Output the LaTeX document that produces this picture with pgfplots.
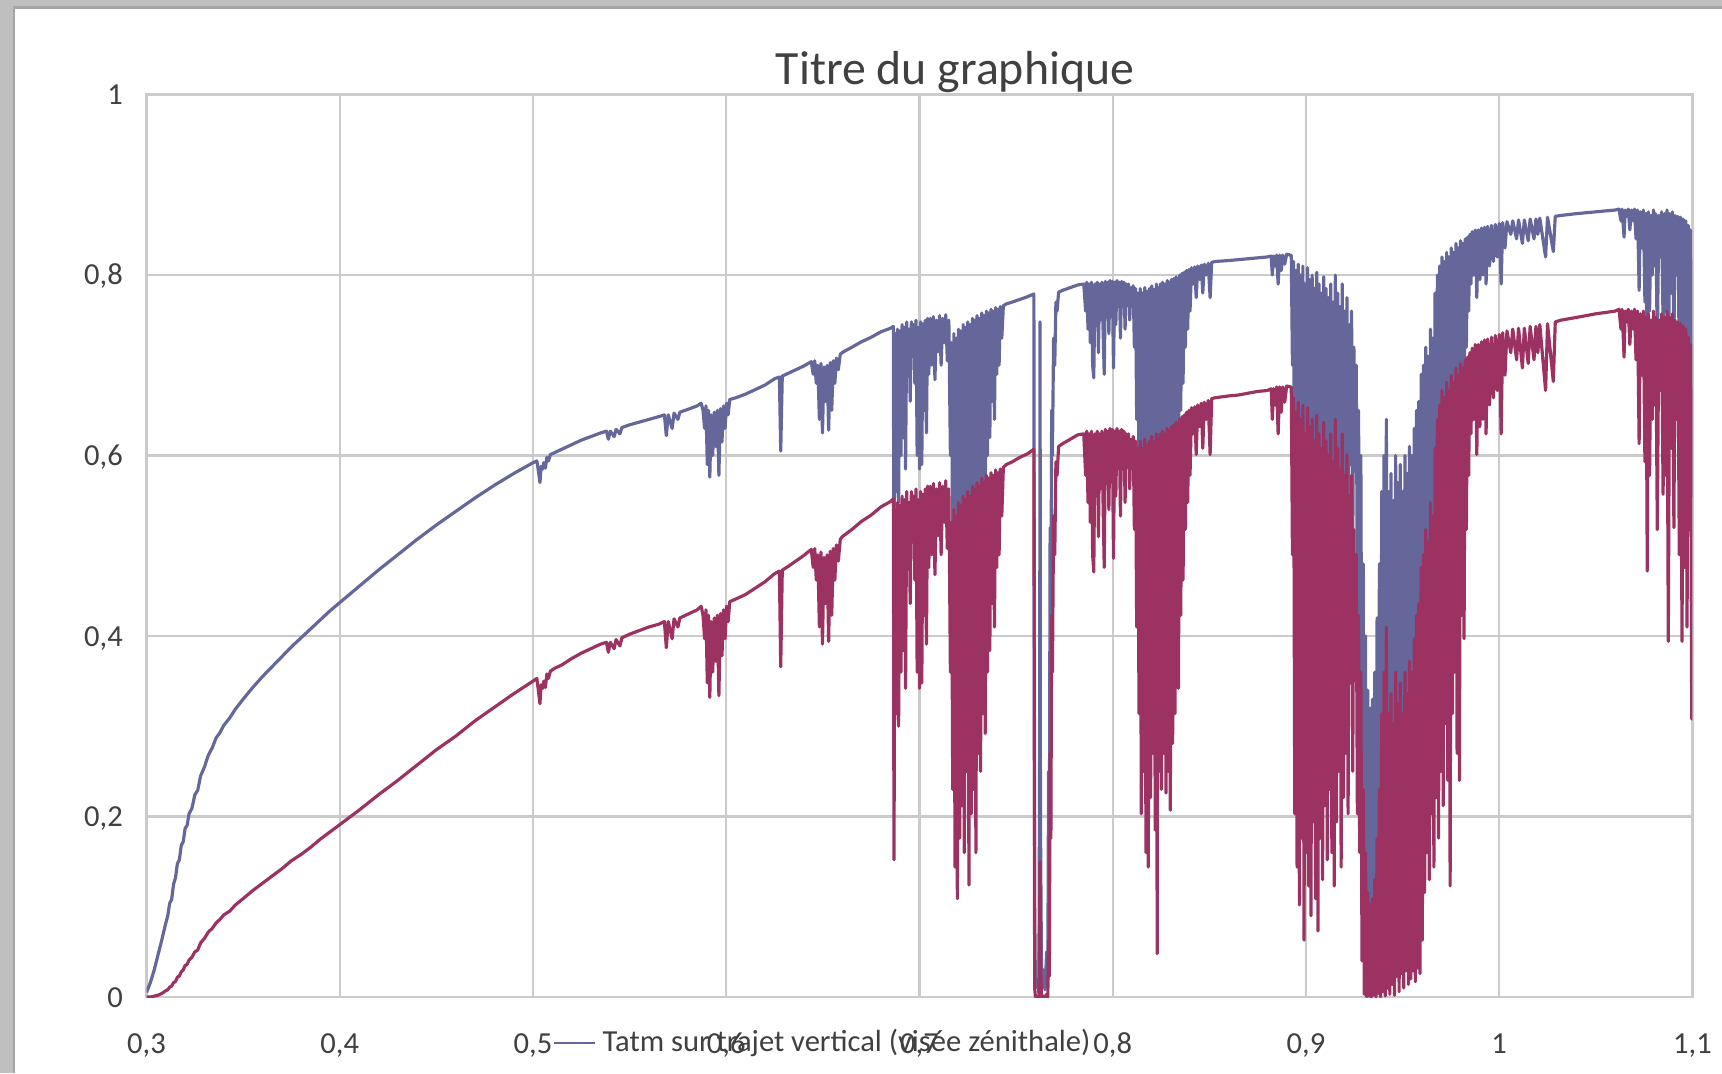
\documentclass[border=0pt]{standalone}
\usepackage{fontspec}
\setmainfont{Carlito}
\usepackage{pgfplots}
\usepackage{pgfplotstable}
\pgfplotsset{compat=1.18}

\definecolor{serA}{HTML}{65679A}
\definecolor{serB}{HTML}{9C3262}
\definecolor{gridc}{HTML}{CBCBCB}
\definecolor{txt}{HTML}{404040}
\definecolor{frameg}{HTML}{BFBFBF}
\definecolor{frameline}{HTML}{A5A5A5}

% wavelength (um), transmission along the vertical path (b), along the slant path (r)
\pgfplotstableread{
x b r
0.3000 0.005 0.000
0.3020 0.016 0.000
0.3040 0.030 0.001
0.3060 0.047 0.002
0.3080 0.064 0.004
0.3100 0.082 0.007
0.3110 0.090 0.008
0.3120 0.104 0.011
0.3130 0.108 0.012
0.3140 0.125 0.016
0.3150 0.132 0.017
0.3160 0.148 0.022
0.3170 0.152 0.023
0.3180 0.168 0.028
0.3190 0.172 0.030
0.3200 0.187 0.035
0.3210 0.190 0.036
0.3220 0.203 0.041
0.3235 0.209 0.044
0.3250 0.224 0.050
0.3265 0.229 0.052
0.3280 0.245 0.060
0.3300 0.255 0.065
0.3320 0.268 0.072
0.3340 0.276 0.076
0.3360 0.287 0.082
0.3380 0.293 0.086
0.3400 0.301 0.091
0.3430 0.309 0.095
0.3460 0.319 0.102
0.3500 0.330 0.109
0.3550 0.343 0.118
0.3600 0.355 0.126
0.3650 0.366 0.134
0.3700 0.377 0.142
0.3750 0.388 0.151
0.3800 0.398 0.158
0.3850 0.408 0.166
0.3900 0.418 0.175
0.3950 0.428 0.183
0.4000 0.437 0.191
0.4100 0.455 0.207
0.4200 0.473 0.224
0.4300 0.490 0.240
0.4400 0.507 0.257
0.4500 0.523 0.274
0.4600 0.538 0.289
0.4700 0.553 0.306
0.4800 0.567 0.321
0.4900 0.580 0.336
0.5000 0.592 0.350
0.5020 0.594 0.353
0.5030 0.580 0.336
0.5036 0.570 0.325
0.5042 0.588 0.346
0.5050 0.585 0.342
0.5056 0.592 0.350
0.5064 0.586 0.343
0.5072 0.598 0.358
0.5080 0.594 0.353
0.5090 0.601 0.361
0.5110 0.603 0.364
0.5150 0.607 0.368
0.5200 0.612 0.375
0.5250 0.617 0.381
0.5300 0.621 0.386
0.5350 0.625 0.391
0.5380 0.627 0.393
0.5390 0.618 0.382
0.5400 0.627 0.393
0.5420 0.621 0.386
0.5430 0.629 0.396
0.5450 0.624 0.389
0.5460 0.631 0.398
0.5500 0.634 0.402
0.5550 0.637 0.406
0.5600 0.640 0.410
0.5650 0.643 0.413
0.5680 0.645 0.416
0.5690 0.622 0.387
0.5700 0.645 0.416
0.5720 0.630 0.397
0.5730 0.647 0.419
0.5750 0.640 0.410
0.5760 0.648 0.420
0.5800 0.651 0.424
0.5850 0.655 0.429
0.5870 0.658 0.433
0.5880 0.650 0.423
0.5888 0.630 0.397
0.5895 0.655 0.429
0.5902 0.590 0.348
0.5908 0.650 0.423
0.5915 0.576 0.332
0.5922 0.645 0.416
0.5930 0.600 0.360
0.5938 0.648 0.420
0.5946 0.610 0.372
0.5954 0.650 0.423
0.5962 0.578 0.334
0.5970 0.652 0.425
0.5978 0.615 0.378
0.5986 0.655 0.429
0.5994 0.630 0.397
0.6002 0.658 0.433
0.6010 0.645 0.416
0.6018 0.662 0.438
0.6050 0.664 0.441
0.6100 0.668 0.446
0.6150 0.673 0.453
0.6200 0.678 0.460
0.6250 0.685 0.469
0.6275 0.687 0.472
0.6282 0.605 0.366
0.6290 0.688 0.473
0.6320 0.691 0.477
0.6360 0.695 0.483
0.6400 0.699 0.489
0.6440 0.704 0.496
0.6450 0.690 0.476
0.6458 0.705 0.497
0.6466 0.680 0.462
0.6474 0.700 0.490
0.6482 0.640 0.410
0.6490 0.702 0.493
0.6498 0.625 0.391
0.6506 0.698 0.487
0.6514 0.660 0.436
0.6522 0.700 0.490
0.6530 0.628 0.394
0.6538 0.703 0.494
0.6546 0.650 0.423
0.6554 0.705 0.497
0.6562 0.680 0.462
0.6570 0.708 0.501
0.6580 0.695 0.483
0.6590 0.712 0.507
0.6600 0.714 0.510
0.6650 0.720 0.518
0.6700 0.726 0.527
0.6750 0.731 0.534
0.6800 0.737 0.543
0.6850 0.741 0.549
0.6865 0.743 0.552
0.6868 0.390 0.152
0.6874 0.735 0.540
0.6880 0.560 0.314
0.6886 0.740 0.548
0.6892 0.548 0.300
0.6898 0.738 0.545
0.6904 0.600 0.360
0.6910 0.745 0.555
0.6916 0.620 0.384
0.6922 0.742 0.551
0.6928 0.585 0.342
0.6934 0.748 0.560
0.6940 0.700 0.490
0.6946 0.740 0.548
0.6952 0.660 0.436
0.6958 0.748 0.560
0.6964 0.710 0.504
0.6970 0.745 0.555
0.6976 0.680 0.462
0.6982 0.750 0.563
0.6988 0.600 0.360
0.6994 0.742 0.551
0.7000 0.585 0.342
0.7006 0.748 0.560
0.7012 0.590 0.348
0.7018 0.746 0.557
0.7024 0.650 0.423
0.7030 0.750 0.563
0.7036 0.625 0.391
0.7042 0.752 0.566
0.7048 0.690 0.476
0.7056 0.752 0.566
0.7064 0.700 0.490
0.7072 0.754 0.569
0.7080 0.684 0.468
0.7088 0.750 0.563
0.7096 0.715 0.511
0.7104 0.755 0.570
0.7112 0.700 0.490
0.7120 0.752 0.566
0.7128 0.725 0.526
0.7136 0.756 0.572
0.7144 0.705 0.497
0.7152 0.750 0.563
0.7160 0.600 0.360
0.7166 0.725 0.526
0.7172 0.480 0.230
0.7178 0.735 0.540
0.7184 0.380 0.144
0.7190 0.730 0.533
0.7196 0.330 0.109
0.7202 0.740 0.548
0.7208 0.420 0.176
0.7214 0.738 0.545
0.7220 0.460 0.212
0.7226 0.745 0.555
0.7232 0.400 0.160
0.7238 0.742 0.551
0.7244 0.500 0.250
0.7250 0.748 0.560
0.7256 0.352 0.124
0.7262 0.745 0.555
0.7268 0.450 0.203
0.7274 0.752 0.566
0.7280 0.480 0.230
0.7286 0.750 0.563
0.7292 0.400 0.160
0.7298 0.755 0.570
0.7304 0.520 0.270
0.7310 0.752 0.566
0.7316 0.500 0.250
0.7322 0.758 0.575
0.7328 0.560 0.314
0.7334 0.755 0.570
0.7340 0.540 0.292
0.7346 0.760 0.578
0.7352 0.600 0.360
0.7358 0.758 0.575
0.7364 0.620 0.384
0.7370 0.762 0.581
0.7376 0.660 0.436
0.7382 0.760 0.578
0.7388 0.640 0.410
0.7394 0.764 0.584
0.7400 0.690 0.476
0.7406 0.762 0.581
0.7412 0.700 0.490
0.7418 0.765 0.585
0.7426 0.730 0.533
0.7434 0.766 0.587
0.7450 0.768 0.590
0.7480 0.770 0.593
0.7520 0.773 0.598
0.7560 0.776 0.602
0.7592 0.779 0.607
0.7596 0.100 0.010
0.7600 0.010 0.000
0.7610 0.020 0.000
0.7618 0.005 0.000
0.7622 0.300 0.090
0.7624 0.748 0.150
0.7626 0.200 0.040
0.7632 0.010 0.000
0.7642 0.030 0.001
0.7650 0.008 0.000
0.7658 0.050 0.003
0.7664 0.020 0.000
0.7668 0.250 0.063
0.7672 0.150 0.023
0.7676 0.520 0.270
0.7680 0.420 0.176
0.7684 0.650 0.423
0.7688 0.600 0.360
0.7694 0.730 0.533
0.7700 0.700 0.490
0.7706 0.770 0.593
0.7712 0.760 0.578
0.7720 0.781 0.610
0.7740 0.783 0.613
0.7780 0.786 0.618
0.7820 0.789 0.623
0.7850 0.790 0.624
0.7860 0.760 0.578
0.7866 0.792 0.627
0.7872 0.740 0.548
0.7878 0.790 0.624
0.7884 0.725 0.526
0.7890 0.792 0.627
0.7896 0.700 0.490
0.7902 0.686 0.471
0.7908 0.790 0.624
0.7914 0.745 0.555
0.7920 0.792 0.627
0.7926 0.714 0.510
0.7932 0.790 0.624
0.7938 0.750 0.563
0.7944 0.792 0.627
0.7950 0.740 0.548
0.7956 0.690 0.476
0.7962 0.793 0.629
0.7968 0.760 0.578
0.7974 0.792 0.627
0.7980 0.735 0.540
0.7986 0.794 0.630
0.7992 0.760 0.578
0.7998 0.793 0.629
0.8004 0.697 0.486
0.8010 0.792 0.627
0.8016 0.745 0.555
0.8022 0.794 0.630
0.8028 0.770 0.593
0.8034 0.792 0.627
0.8040 0.730 0.533
0.8046 0.793 0.629
0.8052 0.765 0.585
0.8058 0.792 0.627
0.8064 0.740 0.548
0.8070 0.790 0.624
0.8076 0.775 0.601
0.8082 0.790 0.624
0.8088 0.750 0.563
0.8094 0.786 0.618
0.8100 0.770 0.593
0.8106 0.788 0.621
0.8112 0.720 0.518
0.8118 0.785 0.616
0.8124 0.640 0.410
0.8130 0.780 0.608
0.8136 0.560 0.314
0.8142 0.785 0.616
0.8148 0.450 0.203
0.8154 0.780 0.608
0.8160 0.500 0.250
0.8166 0.786 0.618
0.8172 0.400 0.160
0.8178 0.782 0.612
0.8184 0.380 0.144
0.8190 0.785 0.616
0.8196 0.470 0.221
0.8202 0.788 0.621
0.8208 0.520 0.270
0.8214 0.784 0.615
0.8220 0.430 0.185
0.8226 0.790 0.624
0.8230 0.220 0.048
0.8234 0.786 0.618
0.8240 0.500 0.250
0.8246 0.790 0.624
0.8252 0.480 0.230
0.8258 0.792 0.627
0.8264 0.520 0.270
0.8270 0.790 0.624
0.8276 0.475 0.226
0.8282 0.794 0.630
0.8288 0.500 0.250
0.8294 0.792 0.627
0.8298 0.455 0.207
0.8304 0.795 0.632
0.8310 0.530 0.281
0.8316 0.796 0.634
0.8322 0.560 0.314
0.8328 0.798 0.637
0.8334 0.600 0.360
0.8340 0.585 0.342
0.8346 0.800 0.640
0.8352 0.650 0.423
0.8358 0.802 0.643
0.8364 0.680 0.462
0.8370 0.803 0.645
0.8376 0.720 0.518
0.8382 0.805 0.648
0.8388 0.740 0.548
0.8394 0.806 0.650
0.8400 0.760 0.578
0.8408 0.808 0.653
0.8416 0.790 0.624
0.8424 0.809 0.654
0.8432 0.775 0.601
0.8440 0.810 0.656
0.8450 0.795 0.632
0.8458 0.811 0.658
0.8466 0.780 0.608
0.8474 0.812 0.659
0.8484 0.800 0.640
0.8494 0.813 0.661
0.8504 0.775 0.601
0.8512 0.814 0.663
0.8530 0.815 0.664
0.8600 0.816 0.666
0.8650 0.817 0.667
0.8700 0.818 0.669
0.8750 0.819 0.671
0.8800 0.820 0.672
0.8820 0.821 0.674
0.8826 0.800 0.640
0.8832 0.821 0.674
0.8840 0.810 0.656
0.8848 0.822 0.676
0.8856 0.790 0.624
0.8864 0.822 0.676
0.8872 0.805 0.648
0.8880 0.822 0.676
0.8890 0.812 0.659
0.8900 0.823 0.677
0.8920 0.822 0.676
0.8924 0.822 0.676
0.8930 0.700 0.490
0.8936 0.815 0.664
0.8942 0.450 0.203
0.8948 0.805 0.648
0.8954 0.380 0.144
0.8960 0.812 0.659
0.8966 0.320 0.102
0.8972 0.800 0.640
0.8978 0.420 0.176
0.8984 0.810 0.656
0.8990 0.250 0.063
0.8996 0.790 0.624
0.9002 0.400 0.160
0.9008 0.808 0.653
0.9014 0.350 0.123
0.9020 0.795 0.632
0.9026 0.300 0.090
0.9032 0.800 0.640
0.9038 0.440 0.194
0.9044 0.785 0.616
0.9050 0.330 0.109
0.9056 0.803 0.645
0.9062 0.270 0.073
0.9068 0.790 0.624
0.9074 0.420 0.176
0.9080 0.780 0.608
0.9086 0.360 0.130
0.9092 0.798 0.637
0.9098 0.460 0.212
0.9104 0.785 0.616
0.9110 0.390 0.152
0.9116 0.775 0.601
0.9122 0.480 0.230
0.9128 0.790 0.624
0.9134 0.400 0.160
0.9140 0.770 0.593
0.9146 0.350 0.123
0.9152 0.800 0.640
0.9158 0.440 0.194
0.9164 0.780 0.608
0.9170 0.500 0.250
0.9176 0.765 0.585
0.9182 0.380 0.144
0.9188 0.790 0.624
0.9194 0.470 0.221
0.9200 0.760 0.578
0.9206 0.520 0.270
0.9212 0.775 0.601
0.9218 0.450 0.203
0.9224 0.745 0.555
0.9230 0.590 0.348
0.9236 0.760 0.578
0.9242 0.500 0.250
0.9248 0.720 0.518
0.9254 0.600 0.360
0.9260 0.700 0.490
0.9266 0.450 0.203
0.9272 0.650 0.423
0.9278 0.400 0.160
0.9284 0.600 0.360
0.9290 0.200 0.040
0.9296 0.480 0.230
0.9302 0.050 0.003
0.9308 0.400 0.160
0.9314 0.010 0.000
0.9320 0.340 0.116
0.9326 0.030 0.001
0.9332 0.320 0.102
0.9338 0.000 0.000
0.9344 0.330 0.109
0.9350 0.040 0.002
0.9356 0.360 0.130
0.9362 0.010 0.000
0.9368 0.420 0.176
0.9374 0.060 0.004
0.9380 0.480 0.230
0.9386 0.020 0.000
0.9392 0.560 0.314
0.9398 0.080 0.006
0.9404 0.600 0.360
0.9410 0.030 0.001
0.9416 0.640 0.410
0.9422 0.100 0.010
0.9428 0.560 0.314
0.9434 0.050 0.003
0.9440 0.580 0.336
0.9446 0.120 0.014
0.9452 0.550 0.303
0.9458 0.040 0.002
0.9464 0.600 0.360
0.9470 0.150 0.023
0.9476 0.570 0.325
0.9482 0.080 0.006
0.9488 0.590 0.348
0.9494 0.160 0.026
0.9500 0.560 0.314
0.9506 0.100 0.010
0.9512 0.600 0.360
0.9518 0.170 0.029
0.9524 0.580 0.336
0.9530 0.120 0.014
0.9536 0.610 0.372
0.9542 0.140 0.020
0.9548 0.600 0.360
0.9554 0.170 0.029
0.9560 0.630 0.397
0.9566 0.130 0.017
0.9572 0.650 0.423
0.9578 0.180 0.032
0.9584 0.660 0.436
0.9590 0.160 0.026
0.9596 0.690 0.476
0.9602 0.250 0.063
0.9608 0.700 0.490
0.9614 0.340 0.116
0.9620 0.720 0.518
0.9626 0.400 0.160
0.9632 0.710 0.504
0.9638 0.360 0.130
0.9644 0.740 0.548
0.9650 0.450 0.203
0.9656 0.730 0.533
0.9662 0.380 0.144
0.9668 0.780 0.608
0.9674 0.470 0.221
0.9680 0.800 0.640
0.9686 0.420 0.176
0.9692 0.810 0.656
0.9698 0.500 0.250
0.9704 0.820 0.672
0.9710 0.460 0.212
0.9716 0.815 0.664
0.9722 0.550 0.303
0.9728 0.825 0.681
0.9734 0.490 0.240
0.9740 0.820 0.672
0.9746 0.350 0.123
0.9752 0.830 0.689
0.9758 0.560 0.314
0.9764 0.825 0.681
0.9770 0.600 0.360
0.9776 0.835 0.697
0.9782 0.520 0.270
0.9788 0.830 0.689
0.9794 0.490 0.240
0.9800 0.838 0.702
0.9806 0.650 0.423
0.9812 0.835 0.697
0.9818 0.630 0.397
0.9824 0.840 0.706
0.9830 0.720 0.518
0.9836 0.842 0.709
0.9842 0.760 0.578
0.9848 0.845 0.714
0.9854 0.790 0.624
0.9860 0.848 0.719
0.9868 0.800 0.640
0.9876 0.850 0.723
0.9884 0.775 0.601
0.9892 0.850 0.723
0.9900 0.795 0.632
0.9908 0.852 0.726
0.9916 0.800 0.640
0.9924 0.853 0.728
0.9932 0.790 0.624
0.9940 0.854 0.729
0.9950 0.810 0.656
0.9960 0.855 0.731
0.9970 0.815 0.664
0.9980 0.856 0.733
0.9990 0.820 0.672
1.0000 0.857 0.734
1.0010 0.790 0.624
1.0018 0.858 0.736
1.0030 0.830 0.689
1.0040 0.859 0.738
1.0060 0.845 0.714
1.0070 0.860 0.740
1.0090 0.840 0.706
1.0100 0.861 0.741
1.0120 0.835 0.697
1.0130 0.861 0.741
1.0150 0.838 0.702
1.0160 0.862 0.743
1.0180 0.840 0.706
1.0190 0.862 0.743
1.0200 0.845 0.714
1.0210 0.863 0.745
1.0240 0.820 0.672
1.0250 0.864 0.746
1.0280 0.826 0.682
1.0290 0.865 0.748
1.0320 0.866 0.750
1.0400 0.868 0.753
1.0500 0.870 0.757
1.0600 0.872 0.760
1.0620 0.873 0.762
1.0630 0.860 0.740
1.0636 0.873 0.762
1.0646 0.842 0.709
1.0652 0.872 0.760
1.0660 0.865 0.748
1.0668 0.873 0.762
1.0676 0.850 0.723
1.0684 0.872 0.760
1.0694 0.860 0.740
1.0700 0.873 0.762
1.0708 0.840 0.706
1.0716 0.872 0.760
1.0724 0.783 0.613
1.0730 0.870 0.757
1.0738 0.830 0.689
1.0746 0.872 0.760
1.0754 0.770 0.593
1.0760 0.868 0.753
1.0766 0.687 0.472
1.0772 0.870 0.757
1.0778 0.760 0.578
1.0786 0.866 0.750
1.0792 0.800 0.640
1.0798 0.872 0.760
1.0804 0.810 0.656
1.0810 0.868 0.753
1.0818 0.720 0.518
1.0826 0.866 0.750
1.0834 0.820 0.672
1.0840 0.870 0.757
1.0848 0.746 0.557
1.0856 0.868 0.753
1.0862 0.760 0.578
1.0868 0.872 0.760
1.0875 0.628 0.394
1.0882 0.868 0.753
1.0890 0.780 0.608
1.0896 0.870 0.757
1.0904 0.721 0.520
1.0910 0.866 0.750
1.0918 0.800 0.640
1.0924 0.865 0.748
1.0932 0.700 0.490
1.0938 0.864 0.746
1.0946 0.628 0.394
1.0952 0.862 0.743
1.0960 0.690 0.476
1.0966 0.860 0.740
1.0972 0.640 0.410
1.0978 0.855 0.731
1.0984 0.720 0.518
1.0990 0.850 0.723
1.0996 0.555 0.308
1.1000 0.700 0.490
}\spec

\newcommand\ticksize{\fontsize{8.7pt}{10pt}\selectfont}
\newcommand\titlesize{\fontsize{13.6pt}{16pt}\selectfont}

\begin{document}
\begin{tikzpicture}
% page: 1722 x 1073 units of 0.1 mm
\useasboundingbox (0,0) rectangle (172.2mm,107.3mm);
\fill[frameg] (0,0) rectangle (172.2mm,107.3mm);
\fill[white] (1.4mm,0) rectangle (172.2mm,106.55mm);
\draw[frameline, line width=0.25mm] (1.4mm,0) -- (1.4mm,106.55mm) -- (172.2mm,106.55mm);

\begin{axis}[
  at={(14.65mm,7.6mm)}, anchor=south west,
  scale only axis, width=154.6mm, height=90.25mm,
  xmin=0.3, xmax=1.1, ymin=0, ymax=1,
  xtick={0.3,0.4,0.5,0.6,0.7,0.8,0.9,1.0,1.1},
  xticklabels={{0,3},{0,4},{0,5},{0,6},{0,7},{0,8},{0,9},{1},{1,1}},
  ytick={0,0.2,0.4,0.6,0.8,1},
  yticklabels={{0},{0,2},{0,4},{0,6},{0,8},{1}},
  grid=major,
  major grid style={gridc, line width=0.6pt},
  axis line style={gridc, line width=0.6pt},
  major tick length=0pt,
  tick style={draw=none},
  xticklabel style={font=\ticksize, text=txt, anchor=base, inner sep=0pt, yshift=-5.6mm},
  yticklabel style={font=\ticksize, text=txt, anchor=base east, inner sep=0pt, xshift=-2.3mm, yshift=-1.0mm},
  clip=true,
]
\addplot[serA, line width=0.9pt, line join=round] table[x=x, y=b] {\spec};
\addplot[serB, line width=0.9pt, line join=round] table[x=x, y=r] {\spec};
\end{axis}

% title
\node[anchor=base, font=\titlesize, text=txt, inner sep=0pt] at (95.5mm,98.85mm) {Titre du graphique};
% legend (overlapping the tick labels, as laid out)
\draw[serA, line width=0.8pt] (55.4mm,3.0mm) -- (59.5mm,3.0mm);
\node[anchor=base west, font=\ticksize, text=txt, inner sep=0pt] at (60.2mm,2.15mm) {Tatm sur trajet vertical (visée zénithale)};
\end{tikzpicture}
\end{document}
